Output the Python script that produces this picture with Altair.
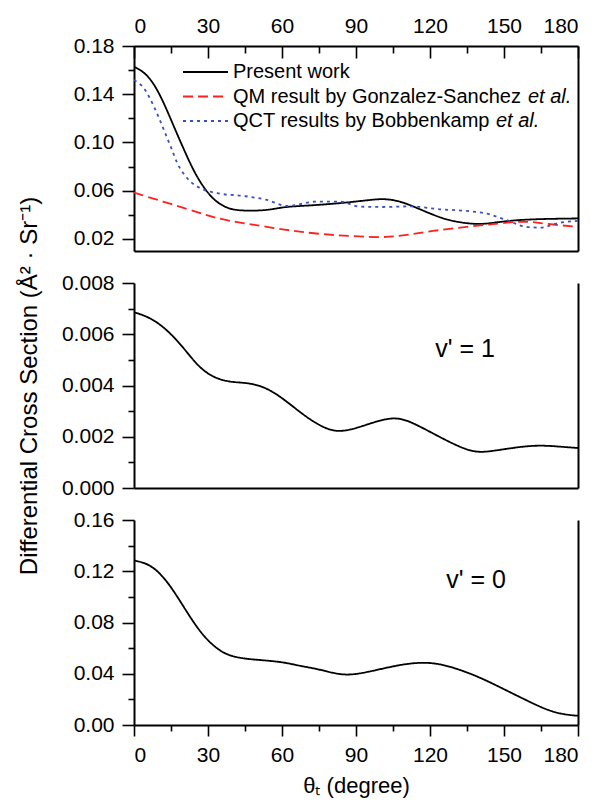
import altair as alt
import pandas as pd

# ---------------- data ----------------
pw_deg = [0, 4, 8.1, 12.2, 16.2, 20.3, 24.3, 28.4, 32.4, 36.5, 40.5, 46, 54, 60.5, 67.3, 80.8, 94.4, 101, 107.8, 114.7, 121.2, 128, 137.4, 143, 151, 162, 180]
pw_val = [0.1628, 0.1587, 0.149, 0.1325, 0.113, 0.0938, 0.0758, 0.062, 0.0523, 0.0467, 0.044, 0.0433, 0.0437, 0.0465, 0.0473, 0.049, 0.052, 0.0536, 0.0515, 0.0457, 0.040, 0.035, 0.0322, 0.0325, 0.035, 0.0365, 0.037]

qm_deg = [0, 16.2, 26.8, 33.8, 40, 54, 67, 81, 101, 108, 121, 135, 148.6, 159, 167, 180]
qm_val = [0.0584, 0.0482, 0.0415, 0.0371, 0.0345, 0.030, 0.0258, 0.023, 0.021, 0.0225, 0.0268, 0.030, 0.033, 0.035, 0.0324, 0.030]

qct_deg = [0, 4, 8.1, 12.2, 14.9, 17.6, 21.6, 27, 33.8, 44.6, 54, 62, 74, 83.5, 91.6, 101, 112, 124, 135, 143, 151, 159, 164.6, 172.7, 180]
qct_val = [0.1518, 0.145, 0.1297, 0.110, 0.0965, 0.0827, 0.0703, 0.062, 0.0579, 0.0556, 0.0523, 0.0473, 0.051, 0.0509, 0.0468, 0.0465, 0.047, 0.0446, 0.0432, 0.041, 0.0357, 0.030, 0.0294, 0.0335, 0.035]

v1_deg = [0, 6.5, 13.2, 20, 26.8, 33.6, 40, 48, 56.5, 67.3, 74, 82, 91.6, 105, 113, 124, 135, 141, 149, 162.6, 173, 180]
v1_val = [0.00686, 0.00666, 0.0062, 0.00549, 0.00464, 0.00425, 0.00412, 0.0041, 0.0038, 0.00295, 0.0025, 0.00213, 0.00237, 0.00283, 0.00256, 0.00198, 0.00146, 0.00138, 0.0015, 0.00169, 0.00161, 0.00156]

v0_deg = [0, 6.5, 13.2, 20, 26.8, 33.6, 40, 51, 60.5, 67.3, 75.4, 85, 94.4, 108, 119, 128, 139, 148.6, 159.4, 169, 176, 180]
v0_val = [0.1284, 0.1258, 0.1134, 0.0927, 0.072, 0.059, 0.0526, 0.0507, 0.0492, 0.046, 0.0435, 0.0381, 0.041, 0.0474, 0.0494, 0.046, 0.0383, 0.0293, 0.0189, 0.0103, 0.0078, 0.0072]

legend_main = ["Present work", "QM result by Gonzalez-Sanchez ", "QCT results by Bobbenkamp "]
legend_ital = ["", "et al.", "et al."]
series_colors = ["#000000", "#ff2020", "#3a4fc0"]
series_dash = [[1, 0], [10, 5], [3, 4]]

panel_labels = ["v' = 1", "v' = 0"]

x_ticks = list(range(0, 181, 15))
x_major_ticks = list(range(0, 181, 30))
x_minor_ticks = list(range(15, 181, 30))
top_ticks = [0.02, 0.04, 0.06, 0.08, 0.10, 0.12, 0.14, 0.16, 0.18]
mid_ticks = [0.000, 0.001, 0.002, 0.003, 0.004, 0.005, 0.006, 0.007, 0.008]
bot_ticks = [0.00, 0.02, 0.04, 0.06, 0.08, 0.10, 0.12, 0.14, 0.16]

# ---------------- styling ----------------
FONT = "Liberation Sans"
W, H = 444, 205
LW = 1.8
AX = dict(domainColor="black", domainWidth=2, tickColor="black", tickWidth=1.6,
          labelFont=FONT, labelFontSize=21, labelColor="black", titleFont=FONT,
          titleColor="black", titleFontWeight="normal", grid=False)

xscale = alt.Scale(domain=[0, 180], nice=False, zero=False)

def df(deg, val):
    return pd.DataFrame({"deg": deg, "val": val})

x_major = "datum.value % 30 === 0"

def line(data, color, dash, x_axis, y_axis, yscale, opacity=1.0, interp="basis"):
    return alt.Chart(data).mark_line(
        color=color, strokeDash=dash, strokeWidth=LW, interpolate=interp,
        clip=True, strokeOpacity=opacity
    ).encode(
        x=alt.X("deg:Q", scale=xscale, axis=x_axis),
        y=alt.Y("val:Q", scale=yscale, axis=y_axis),
    )

def right_axis():
    return alt.Axis(orient="right", ticks=False, labels=False, title=None, domain=True, **AX)

def domain_only_bottom():
    return alt.Axis(orient="bottom", ticks=False, labels=False, title=None, domain=True, **AX)

# ---------------- top panel ----------------
top_scale = alt.Scale(domain=[0.01, 0.18], nice=False, zero=False)
top_y_major = "round(datum.value*100) % 4 === 2"
top_y_axis = alt.Axis(
    orient="left", values=top_ticks, title=None, labelPadding=8,
    tickSize=alt.condition(top_y_major, alt.value(12), alt.value(6)),
    labelExpr=f"{top_y_major} ? format(datum.value, '.2f') : ''", **AX)
top_x_labels = alt.Axis(
    orient="top", values=x_major_ticks, title=None, labelPadding=10, ticks=False,
    domain=True, **AX)
top_x_major = alt.Axis(
    orient="top", values=x_major_ticks, title=None, labels=False, domain=False,
    tickSize=12, offset=-12, **AX)
top_x_minor = alt.Axis(
    orient="top", values=x_minor_ticks, title=None, labels=False, domain=False,
    tickSize=7, offset=-7, **AX)

top_lines = [
    line(df(pw_deg, pw_val), series_colors[0], series_dash[0], top_x_labels, top_y_axis, top_scale),
    line(df(qm_deg, qm_val), series_colors[1], series_dash[1], top_x_major, right_axis(), top_scale),
    line(df(qct_deg, qct_val), series_colors[2], series_dash[2], top_x_minor, None, top_scale, interp="monotone"),
    line(df(pw_deg, pw_val), "black", [1, 0], domain_only_bottom(), None, top_scale, opacity=0.0),
]

leg = pd.DataFrame({"main": legend_main, "ital": legend_ital, "color": series_colors})
leg_layers = []
for i in range(3):
    d = leg.iloc[[i]]
    yy = 26 + 24.5 * i
    leg_layers.append(alt.Chart(d).mark_rule(
        color=series_colors[i], strokeDash=series_dash[i], strokeWidth=LW
    ).encode(x=alt.value(49), x2=alt.value(94), y=alt.value(yy)))
    leg_layers.append(alt.Chart(d).mark_text(
        font=FONT, fontSize=20, align="left", baseline="middle", color="black"
    ).encode(text="main:N", x=alt.value(99), y=alt.value(yy)))
ital_off = [0, 295, 263]
for i in (1, 2):
    d = leg.iloc[[i]]
    yy = 26 + 24.5 * i
    leg_layers.append(alt.Chart(d).mark_text(
        font=FONT, fontSize=20, fontStyle="italic", align="left", baseline="middle", color="black"
    ).encode(text="ital:N", x=alt.value(99 + ital_off[i]), y=alt.value(yy)))

top = alt.layer(*top_lines, *leg_layers).resolve_axis(x="independent", y="independent").properties(width=W, height=H)

# ---------------- middle panel ----------------
mid_scale = alt.Scale(domain=[0, 0.008], nice=False, zero=False)
mid_major = "round(datum.value*1000) % 2 === 0"
mid_y_axis = alt.Axis(
    orient="left", values=mid_ticks, labelPadding=8,
    title="Differential Cross Section (Å² · Sr⁻¹)", titleFontSize=24, titlePadding=20,
    tickSize=alt.condition(mid_major, alt.value(12), alt.value(6)),
    labelExpr=f"{mid_major} ? format(datum.value, '.3f') : ''", **AX)
mid_df = df(v1_deg, v1_val)
mid_lbl = pd.DataFrame({"t": [panel_labels[0]]})
mid = alt.layer(
    line(mid_df, "black", [1, 0], domain_only_bottom(), mid_y_axis, mid_scale),
    line(mid_df, "black", [1, 0], None, right_axis(), mid_scale, opacity=0.0),
    alt.Chart(mid_lbl).mark_text(font=FONT, fontSize=25, align="center", baseline="middle", color="black")
       .encode(text="t:N", x=alt.value(331), y=alt.value(66)),
).resolve_axis(x="independent", y="independent").properties(width=W, height=H)

# ---------------- bottom panel ----------------
bot_scale = alt.Scale(domain=[0, 0.16], nice=False, zero=False)
bot_major = "round(datum.value*100) % 4 === 0"
bot_y_axis = alt.Axis(
    orient="left", values=bot_ticks, title=None, labelPadding=8,
    tickSize=alt.condition(bot_major, alt.value(12), alt.value(6)),
    labelExpr=f"{bot_major} ? format(datum.value, '.2f') : ''", **AX)
bot_x_axis = alt.Axis(
    orient="bottom", values=x_ticks, title="θₜ (degree)", titleFontSize=22, titlePadding=10,
    labelPadding=8,
    tickSize=alt.condition(x_major, alt.value(11), alt.value(6)),
    labelExpr=f"{x_major} ? datum.label : ''", **AX)
bot_df = df(v0_deg, v0_val)
bot_lbl = pd.DataFrame({"t": [panel_labels[1]]})
bot = alt.layer(
    line(bot_df, "black", [1, 0], bot_x_axis, bot_y_axis, bot_scale),
    line(bot_df, "black", [1, 0], None, right_axis(), bot_scale, opacity=0.0),
    alt.Chart(bot_lbl).mark_text(font=FONT, fontSize=25, align="center", baseline="middle", color="black")
       .encode(text="t:N", x=alt.value(342), y=alt.value(60)),
).resolve_axis(x="independent", y="independent").properties(width=W, height=H)

chart = alt.vconcat(top, mid, bot, spacing=32, bounds="flush").properties(
    padding={"left": 17, "top": 15, "right": 2, "bottom": 3}, background="white"
).configure_view(stroke=None)

chart.save("out.html", embed_options={"renderer": "svg", "actions": False})
